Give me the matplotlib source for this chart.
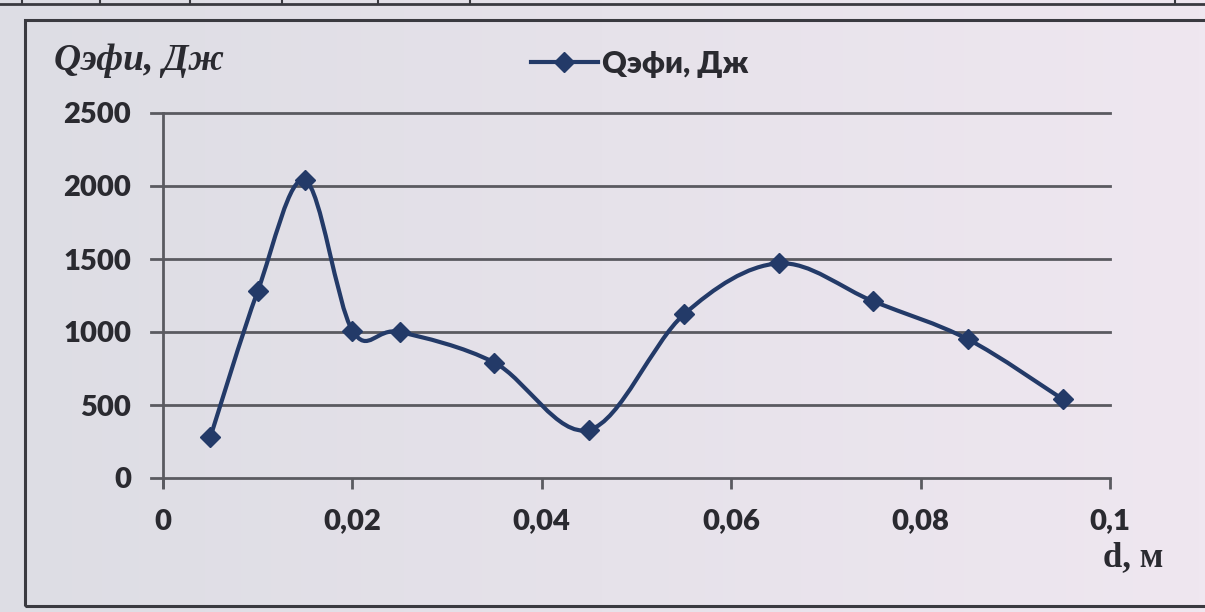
import numpy as np
import matplotlib.pyplot as plt
from matplotlib.path import Path
from matplotlib.patches import PathPatch, Rectangle
from matplotlib.lines import Line2D

# d, м  and  Qэфи, Дж
d_m = [0.005, 0.01, 0.015, 0.02, 0.025, 0.035, 0.045, 0.055, 0.065, 0.075, 0.085, 0.095]
q_eff = [280, 1280, 2040, 1010, 1000, 790, 330, 1120, 1470, 1210, 950, 540]

x_ticks = [0, 0.02, 0.04, 0.06, 0.08, 0.1]
x_tick_labels = ["0", "0,02", "0,04", "0,06", "0,08", "0,1"]
y_ticks = [0, 500, 1000, 1500, 2000, 2500]
y_tick_labels = ["0", "500", "1000", "1500", "2000", "2500"]
series_name = "Qэфи, Дж"

line_col = "#233a68"
grid_col = "#5a5a60"
text_col = "#2a2a30"

fig = plt.figure(figsize=(12.05, 6.12), dpi=100)

# paper background
bg = fig.add_axes([0, 0, 1, 1], zorder=-5)
gx = np.linspace(0, 1, 200)
gy = np.linspace(0, 1, 100)[:, None]
r = 221 + 18 * gx + 0 * gy
g = 221 + 10 * gx + 0 * gy
b = 228 + 12 * gx + 0 * gy
bg.imshow(np.dstack([r, g, b]) / 255, aspect="auto", extent=[0, 1, 0, 1])
bg.set_axis_off()

# chart frame and the table edge above it
fig.add_artist(Rectangle((25 / 1205, 1 - 606 / 612), 1.2, (606 - 20) / 612,
                         transform=fig.transFigure, fill=False,
                         edgecolor="#3a3a40", linewidth=2.2))
fig.add_artist(Line2D([0, 1], [1 - 4 / 612, 1 - 4 / 612], transform=fig.transFigure,
                      color="#3a3a40", linewidth=2))
for vx in [22, 100, 190, 282, 378, 470, 1175]:
    fig.add_artist(Line2D([vx / 1205, vx / 1205], [1 - 4 / 612, 1], transform=fig.transFigure,
                          color="#3a3a40", linewidth=1.5))

ax = fig.add_axes([163 / 1205, 1 - 478 / 612, (1110 - 163) / 1205, (478 - 113) / 612])
ax.set_facecolor("none")
ax.set_xlim(0, 0.1)
ax.set_ylim(0, 2500)

# horizontal grid, drawn a bit to the left of the axis like tick marks
for yv in y_ticks[1:]:
    ax.plot([-0.0013, 0.1], [yv, yv], color=grid_col, linewidth=2, clip_on=False, zorder=1)
ax.plot([-0.0013, 0.1], [0, 0], color=grid_col, linewidth=2, clip_on=False, zorder=1)
ax.plot([0, 0], [-60, 2500], color=grid_col, linewidth=2, clip_on=False, zorder=1)

for s in ax.spines.values():
    s.set_visible(False)

ax.set_xticks(x_ticks)
ax.set_xticklabels(x_tick_labels)
ax.set_yticks(y_ticks)
ax.set_yticklabels(y_tick_labels)
ax.tick_params(axis="y", length=0, pad=23)
ax.tick_params(axis="x", length=8, width=2, color=grid_col, pad=14, direction="out")
for lab in ax.get_xticklabels() + ax.get_yticklabels():
    lab.set_fontfamily("Lato")
    lab.set_fontweight("heavy")
    lab.set_fontsize(21)
    lab.set_color(text_col)

# smooth line through the points (cubic Bezier segments)
pts = np.column_stack([d_m, q_eff]).astype(float)
ext = np.vstack([pts[0], pts, pts[-1]])
verts = [tuple(pts[0])]
codes = [Path.MOVETO]
for i in range(len(pts) - 1):
    p0, p1, p2, p3 = ext[i], ext[i + 1], ext[i + 2], ext[i + 3]
    c1 = p1 + (p2 - p0) / 6
    c2 = p2 - (p3 - p1) / 6
    verts += [tuple(c1), tuple(c2), tuple(p2)]
    codes += [Path.CURVE4] * 3
ax.add_patch(PathPatch(Path(verts, codes), facecolor="none", edgecolor=line_col,
                       linewidth=3.0, capstyle="round", joinstyle="round", zorder=3))
ax.plot(d_m, q_eff, linestyle="none", marker="D", markersize=10,
        color=line_col, zorder=4)

# legend
leg_handle = Line2D([], [], color=line_col, linewidth=3.0, marker="D", markersize=10)
leg = fig.legend([leg_handle], [series_name], loc="center left",
                 bbox_to_anchor=(503 / 1205, 1 - 64 / 612), frameon=False,
                 handlelength=2.2, handletextpad=0.15,
                 prop={"family": "Lato", "weight": "heavy", "size": 22})
for t in leg.get_texts():
    t.set_color(text_col)

# axis titles
fig.text(54 / 1205, 1 - 60 / 612, "Qэфи, Дж", family="Liberation Serif",
         style="italic", weight="bold", fontsize=27, color=text_col, va="center")
fig.text(1103 / 1205, 1 - 541 / 612, "d, м", family="Liberation Serif",
         weight="bold", fontsize=25, color=text_col, va="top")

fig.savefig("out.png", dpi=100)
